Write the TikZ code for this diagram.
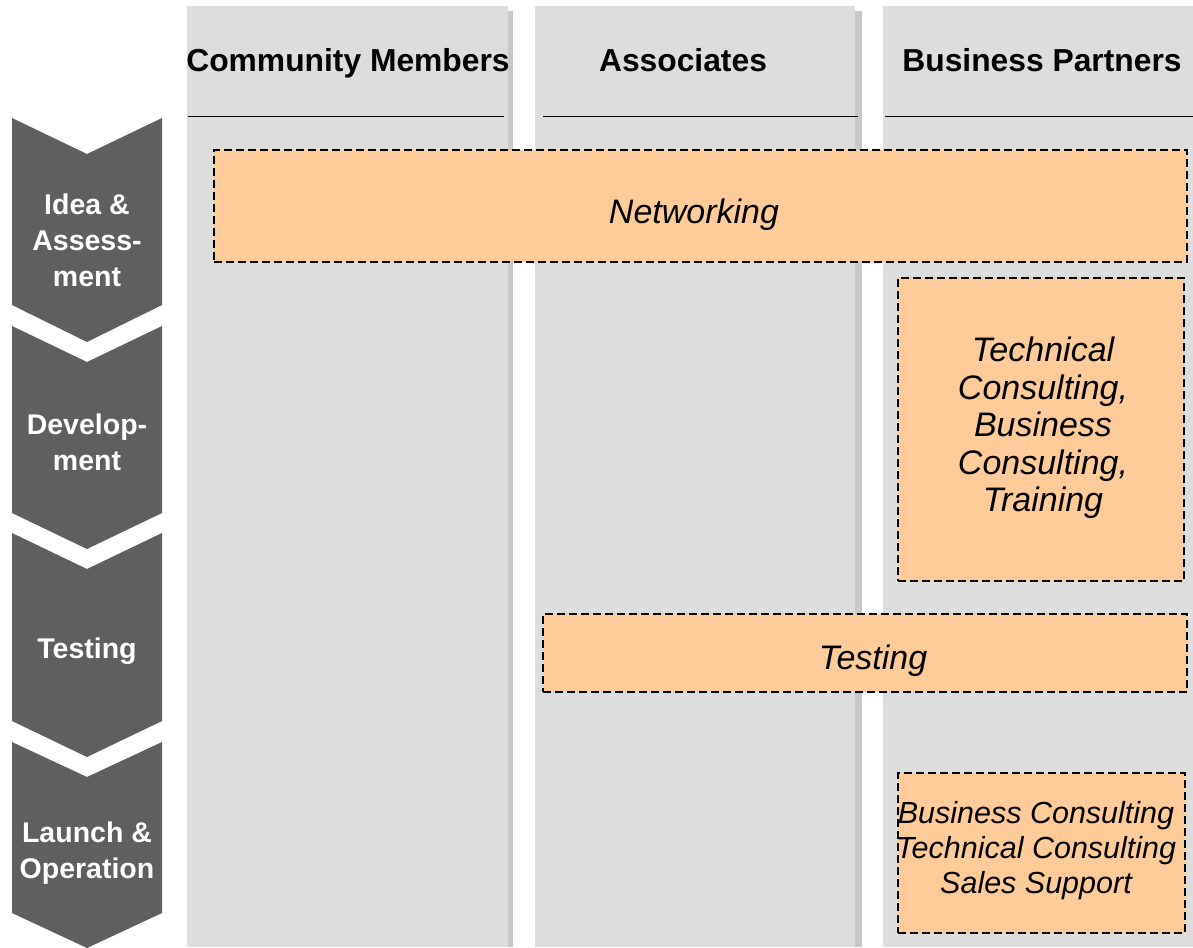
\documentclass[tikz,border=0pt]{standalone}
\usepackage{fontspec}
\setmainfont{Liberation Sans}
\definecolor{colgray}{HTML}{DDDDDD}
\definecolor{colshadow}{HTML}{C8C8C8}
\definecolor{chevgray}{HTML}{5F5F5F}
\definecolor{boxorange}{HTML}{FFCC99}
\tikzset{
  colfill/.style={fill=colgray},
  colshade/.style={fill=colshadow},
  headline/.style={draw=black, line width=1pt},
  header/.style={font=\bfseries\fontsize{31.8}{36}\selectfont, inner sep=0pt, anchor=base},
  chevron/.style={fill=chevgray},
  chevtext/.style={text=white, font=\bfseries\fontsize{28.5}{36}\selectfont, align=center, inner sep=0pt},
  dashbox/.style={fill=boxorange, draw=black, line width=1.3pt, dash pattern=on 8pt off 4pt, inner sep=0pt},
  boxtext/.style={font=\itshape\fontsize{34}{37.5}\selectfont, align=center, inner sep=0pt},
  smalltext/.style={font=\itshape\fontsize{30.5}{35}\selectfont, align=center, inner sep=0pt}
}
\begin{document}
\begin{tikzpicture}[x=1pt,y=-1pt]
\useasboundingbox (0,0) rectangle (1193,947);
% columns
\fill[colshade] (855,11) rectangle (862,947);
\fill[colshade] (508,11) rectangle (513,947);
\fill[colfill] (187,6) rectangle (508,947);
\fill[colfill] (535,6) rectangle (855,947);
\fill[colfill] (883,6) rectangle (1203,947);
% header lines
\draw[headline] (188,117) -- (504,117);
\draw[headline] (543,117) -- (858,117);
\draw[headline] (885,117) -- (1193,117);
% headers
\node[header] (h1) at (348,72) {Community Members};
\node[header] (h2) at (683,72) {Associates};
\node[header] (h3) at (1042,72) {Business Partners};
% chevrons
\fill[chevron] (12,118) -- (87,154) -- (162,118) -- (162,305) -- (87,342) -- (12,305) -- cycle;
\fill[chevron] (12,326) -- (87,362) -- (162,326) -- (162,513) -- (87,549) -- (12,513) -- cycle;
\fill[chevron] (12,533) -- (87,569) -- (162,533) -- (162,721) -- (87,757) -- (12,721) -- cycle;
\fill[chevron] (12,742) -- (87,777) -- (162,742) -- (162,913) -- (87,948) -- (12,913) -- cycle;
\node[chevtext] (c1) at (87,240) {Idea \&\\Assess-\\ment};
\node[chevtext] (c2) at (87,442) {Develop-\\ment};
\node[chevtext] (c3) at (87,651) {Testing};
\node[chevtext] (c4) at (87,853) {Launch \&\\Operation};
% boxes
\node[dashbox, minimum width=973pt, minimum height=112pt] (b1) at (700.5,206) {};
\node[dashbox, minimum width=286pt, minimum height=303pt] (b2) at (1041,429.5) {};
\node[dashbox, minimum width=644pt, minimum height=78pt] (b3) at (865,653) {};
\node[dashbox, minimum width=287pt, minimum height=160pt] (b4) at (1041.5,853) {};
\node[boxtext] (t1) at (694,215) {Networking};
\node[boxtext] (t2) at (1043,428) {Technical\\Consulting,\\Business\\Consulting,\\Training};
\node[boxtext] (t3) at (873,661) {Testing};
\node[smalltext] (t4) at (1036,851) {Business Consulting\\Technical Consulting\\Sales Support};
\end{tikzpicture}
\end{document}
